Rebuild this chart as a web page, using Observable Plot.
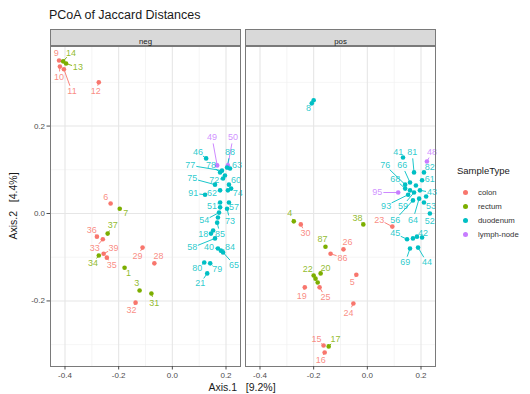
<!DOCTYPE html>
<html>
<head>
<meta charset="utf-8">
<script src="https://cdn.jsdelivr.net/npm/d3@7"></script>
<script src="https://cdn.jsdelivr.net/npm/@observablehq/plot@0.6"></script>
<style>
  html, body { margin: 0; padding: 0; background: #fff; }
  #wrap { position: relative; width: 530px; height: 394px; font-family: "Liberation Sans", Arial, sans-serif; }
  #chart { position: absolute; left: 0; top: 0; }
  .title { position: absolute; left: 49px; top: 8px; font-size: 12.5px; color: #1a1a1a; }
  .xtitle { position: absolute; left: 242px; top: 381px; transform: translateX(-50%); font-size: 10.5px; color: #1a1a1a; white-space: pre; }
  .ytitle { position: absolute; left: 13px; top: 206px; transform: translate(-50%, -50%) rotate(-90deg); font-size: 10.5px; color: #1a1a1a; white-space: pre; }
  .legend { position: absolute; left: 457px; top: 165px; color: #1a1a1a; }
  .legend .lt { font-size: 9.5px; margin-bottom: 9px; }
  .legend .it { height: 14px; display: flex; align-items: center; font-size: 7.8px; color: #333; }
  .legend .sw { width: 17px; display: flex; justify-content: center; margin-right: 4px; }
  .legend .dot { width: 5px; height: 5px; border-radius: 50%; }
</style>
</head>
<body>
<div id="wrap">
  <div id="chart"></div>
  <div class="title">PCoA of Jaccard Distances</div>
  <div class="xtitle">Axis.1   [9.2%]</div>
  <div class="ytitle">Axis.2   [4.4%]</div>
  <div class="legend" id="legend"></div>
</div>
<script>
// ---- categories ----
const panels = ["neg", "pos"];
const sampleTypes = ["colon", "rectum", "duodenum", "lymph-node"];
const typeColors = ["#F8766D", "#7CAE00", "#00BFC4", "#C77CFF"];
const xTicks = [-0.4, -0.2, 0.0, 0.2];
const xMinor = [-0.3, -0.1, 0.1];
const yTicks = [-0.2, 0.0, 0.2];
const yMinor = [-0.3, -0.1, 0.1, 0.3];

// ---- "neg" panel ----
const negIds = ["9","14","13","10","11","12","6","7","37","36","33","39","35","34","29","28","1","3","31","32",
  "49","50","46","88","77","78","63","75","72","60","91","62","74","51","57","54","73","18","85","58","40","84","65","80","79","21",
  "","","","",""];
const negTypes = ["colon","rectum","rectum","colon","colon","colon","colon","rectum","rectum","colon","colon","colon","colon","rectum","colon","colon","rectum","rectum","rectum","colon",
  "lymph-node","lymph-node","duodenum","duodenum","duodenum","duodenum","duodenum","duodenum","duodenum","duodenum","duodenum","duodenum","duodenum","duodenum","duodenum","duodenum","duodenum","duodenum","duodenum","duodenum","duodenum","duodenum","duodenum","duodenum","duodenum","duodenum",
  "duodenum","duodenum","duodenum","duodenum","duodenum"];
const negAxis1 = [-0.422,-0.407,-0.396,-0.419,-0.404,-0.274,-0.230,-0.196,-0.241,-0.281,-0.259,-0.256,-0.244,-0.274,-0.111,-0.067,-0.178,-0.122,-0.078,-0.137,
  0.167,0.207,0.126,0.204,0.185,0.178,0.215,0.159,0.189,0.211,0.122,0.178,0.219,0.178,0.211,0.174,0.204,0.144,0.167,0.159,0.170,0.181,0.189,0.119,0.141,0.130,
  0.196,0.207,0.178,0.170,0.152];
const negAxis2 = [0.350,0.348,0.343,0.336,0.330,0.300,0.023,0.011,-0.046,-0.053,-0.059,-0.092,-0.101,-0.096,-0.078,-0.114,-0.124,-0.176,-0.183,-0.204,
  0.110,0.110,0.126,0.105,0.098,0.094,0.103,0.066,0.080,0.066,0.043,0.053,0.057,0.025,0.025,0.002,0.011,-0.046,-0.021,-0.057,-0.080,-0.085,-0.089,-0.112,-0.114,-0.137,
  0.087,0.053,0.014,-0.009,-0.039];
const negLabel1 = [-0.433,-0.378,-0.352,-0.422,-0.374,-0.285,-0.248,-0.174,-0.222,-0.300,-0.289,-0.219,-0.226,-0.296,-0.130,-0.052,-0.163,-0.133,-0.067,-0.152,
  0.148,0.226,0.096,0.215,0.067,0.144,0.241,0.074,0.156,0.237,0.078,0.148,0.244,0.148,0.230,0.119,0.215,0.115,0.178,0.074,0.137,0.215,0.230,0.093,0.167,0.104,
  null,null,null,null,null];
const negLabel2 = [0.368,0.368,0.334,0.311,0.279,0.279,0.037,0.002,-0.027,-0.037,-0.080,-0.080,-0.119,-0.114,-0.098,-0.098,-0.137,-0.160,-0.204,-0.222,
  0.174,0.174,0.140,0.140,0.110,0.110,0.110,0.080,0.076,0.076,0.046,0.046,0.046,0.016,0.014,-0.016,-0.018,-0.048,-0.048,-0.078,-0.078,-0.078,-0.117,-0.126,-0.128,-0.160,
  null,null,null,null,null];

// ---- "pos" panel ----
const posIds = ["4","30","38","23","87","26","86","22","20","","","19","25","5","24","15","17","16",
  "8","","41","81","48","76","66","82","68","61","95","43","93","59","53","56","64","52","45","42","69","44",
  "","","","",""];
const posTypes = ["rectum","colon","rectum","colon","rectum","colon","colon","rectum","rectum","rectum","rectum","colon","colon","colon","colon","colon","rectum","colon",
  "duodenum","duodenum","duodenum","duodenum","lymph-node","duodenum","duodenum","duodenum","duodenum","duodenum","lymph-node","duodenum","duodenum","duodenum","duodenum","duodenum","duodenum","duodenum","duodenum","duodenum","duodenum","duodenum",
  "duodenum","duodenum","duodenum","duodenum","duodenum"];
const posAxis1 = [-0.274,-0.248,-0.015,0.093,-0.156,-0.089,-0.137,-0.200,-0.174,-0.193,-0.185,-0.233,-0.178,-0.041,-0.052,-0.163,-0.144,-0.159,
  -0.200,-0.207,0.133,0.174,0.222,0.141,0.159,0.211,0.141,0.204,0.115,0.196,0.152,0.174,0.211,0.170,0.193,0.233,0.148,0.185,0.159,0.189,
  0.170,0.204,0.159,0.181,0.219];
const posAxis2 = [-0.018,-0.025,-0.025,-0.030,-0.076,-0.082,-0.092,-0.142,-0.137,-0.149,-0.158,-0.169,-0.169,-0.140,-0.206,-0.302,-0.304,-0.318,
  0.259,0.252,0.128,0.094,0.119,0.066,0.071,0.094,0.057,0.076,0.048,0.053,0.043,0.048,0.025,0.030,0.034,0.000,-0.059,-0.053,-0.080,-0.078,
  -0.057,-0.055,0.053,0.064,0.039];
const posLabel1 = [-0.289,-0.230,-0.037,0.044,-0.167,-0.074,-0.093,-0.222,-0.156,null,null,-0.244,-0.156,-0.056,-0.070,-0.189,-0.119,-0.174,
  -0.219,null,0.115,0.167,0.241,0.067,0.130,0.233,0.104,0.233,0.037,0.241,0.070,0.133,0.237,0.104,0.170,0.233,0.104,0.207,0.141,0.222,
  null,null,null,null,null];
const posLabel2 = [0.000,-0.046,-0.011,-0.014,-0.059,-0.066,-0.101,-0.128,-0.124,null,null,-0.188,-0.192,-0.158,-0.227,-0.288,-0.288,-0.336,
  0.240,null,0.140,0.140,0.140,0.110,0.110,0.105,0.078,0.078,0.048,0.048,0.018,0.018,0.018,-0.014,-0.014,-0.018,-0.046,-0.046,-0.112,-0.112,
  null,null,null,null,null];

// ---- build table ----
function build(panel, ids, types, a1, a2, l1, l2) {
  return ids.map((id, i) => ({panel, id, type: types[i], x: a1[i], y: a2[i], lx: l1[i], ly: l2[i]}));
}
const points = [
  ...build(panels[0], negIds, negTypes, negAxis1, negAxis2, negLabel1, negLabel2),
  ...build(panels[1], posIds, posTypes, posAxis1, posAxis2, posLabel1, posLabel2)
];
const labelled = points.filter(d => d.id !== "" && d.lx != null);
const fmt = d => d.toFixed(1);

const plot = Plot.plot({
  width: 530,
  height: 394,
  marginLeft: 49,
  marginRight: 94,
  marginTop: 46,
  marginBottom: 28,
  style: {fontFamily: "'Liberation Sans', Arial, sans-serif", background: "transparent", overflow: "visible"},
  fx: {domain: panels, paddingInner: 0.0255, paddingOuter: 0, axis: null, label: null},
  x: {domain: [-0.454, 0.254], label: null},
  y: {domain: [-0.350, 0.382], label: null},
  color: {domain: sampleTypes, range: typeColors},
  marks: [
    // strip
    Plot.frame({fill: "#d9d9d9", stroke: "#7a7a7a", strokeWidth: 1, insetTop: -17, insetBottom: 321}),
    Plot.text(panels, {fx: d => d, text: d => d, frameAnchor: "top", dy: -8.5, fontSize: 7.8, fill: "#1a1a1a"}),
    // panel + grid
    Plot.frame({fill: "white"}),
    Plot.gridX(xMinor, {stroke: "#efefef", strokeOpacity: 1, strokeWidth: 0.6}),
    Plot.gridY(yMinor, {stroke: "#efefef", strokeOpacity: 1, strokeWidth: 0.6}),
    Plot.gridX(xTicks, {stroke: "#e6e6e6", strokeOpacity: 1, strokeWidth: 1.1}),
    Plot.gridY(yTicks, {stroke: "#e6e6e6", strokeOpacity: 1, strokeWidth: 1.1}),
    // label segments
    Plot.arrow(labelled, {fx: "panel", x1: "x", y1: "y", x2: "lx", y2: "ly", stroke: "type", strokeWidth: 0.9, headLength: 0, insetStart: 2, insetEnd: 6.5}),
    // points
    Plot.dot(points, {fx: "panel", x: "x", y: "y", fill: "type", r: 2.3, stroke: null}),
    // labels
    Plot.text(labelled, {fx: "panel", x: "lx", y: "ly", text: "id", fill: "type", fontSize: 9, fillOpacity: 0.85}),
    Plot.frame({stroke: "#7a7a7a", strokeWidth: 1}),
    // axes
    Plot.axisX(xTicks, {tickFormat: fmt, tickSize: 3.5, tickPadding: 2, fontSize: 8, color: "#4d4d4d", label: null}),
    Plot.axisY(yTicks, {tickFormat: fmt, tickSize: 3.5, tickPadding: 2, fontSize: 8, color: "#4d4d4d", label: null})
  ]
});
document.getElementById("chart").appendChild(plot);

// ---- legend ----
const leg = document.getElementById("legend");
const lt = document.createElement("div");
lt.className = "lt";
lt.textContent = "SampleType";
leg.appendChild(lt);
sampleTypes.forEach((t, i) => {
  const it = document.createElement("div");
  it.className = "it";
  it.innerHTML = `<span class="sw"><span class="dot" style="background:${typeColors[i]}"></span></span><span></span>`;
  it.lastChild.textContent = t;
  leg.appendChild(it);
});
</script>
</body>
</html>
